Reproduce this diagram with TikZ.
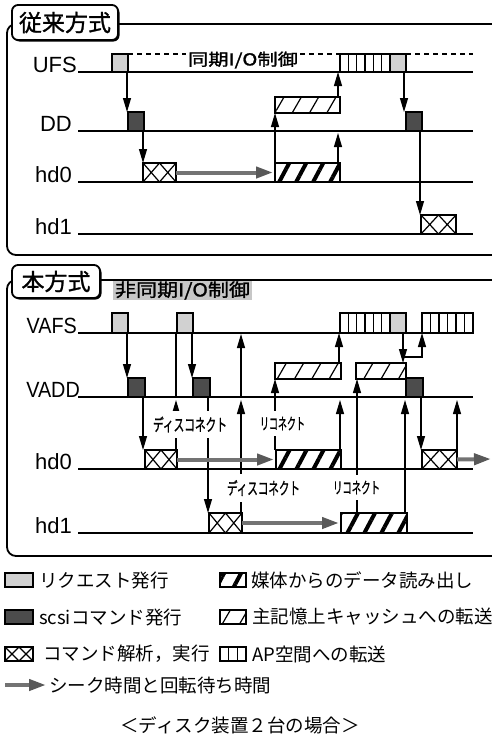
\documentclass[tikz,border=0pt]{standalone}
\usepackage{graphicx}
\usepackage{fontspec}
\setmainfont{Liberation Sans}
\newfontfamily\cjk{Noto Sans CJK JP}
\newfontfamily\cjkb[FakeBold=1.2]{Noto Sans CJK JP}
\usetikzlibrary{arrows.meta,patterns.meta,calc,shadows}
\newcommand\bx[6]{\node[#1, minimum width={(#5)-(#3)}, minimum height={(#6)-(#4)}] (#2) at (#3,#4) {};}
\begin{document}
\begin{tikzpicture}[x=1pt,y=-1pt,
 tl/.style={line width=1.2pt},
 box/.style={draw, line width=1.4pt, inner sep=0pt, outer sep=0pt, anchor=north west},
 req/.style={box, fill=black!18},
 cmd/.style={box, fill=black!70},
 exe/.style={box, fill=white, path picture={\draw[line width=1.2pt] (path picture bounding box.north west) -- (path picture bounding box.south) -- (path picture bounding box.north east) (path picture bounding box.south west) -- (path picture bounding box.north) -- (path picture bounding box.south east);}},
 read/.style={box, preaction={fill=white}, pattern={Lines[angle=62,distance=15pt,line width=4pt]}},
 xfer/.style={box, preaction={fill=white}, pattern={Lines[angle=60,distance=15pt,line width=1.2pt]}},
 ap/.style={box, fill=white, path picture={\pgfmathtruncatemacro\apn{#1-1}\foreach \k in {1,...,\apn}{\draw[line width=1.2pt] ($(path picture bounding box.north west)!{\k/#1}!(path picture bounding box.north east)$) -- ($(path picture bounding box.south west)!{\k/#1}!(path picture bounding box.south east)$);}}},
 arr/.style={line width=1.1pt,-{Triangle[length=14pt,width=8pt]}},
 ln/.style={line width=1.1pt},
 seek/.style={line width=4pt, draw=black!55, -{Triangle[length=17pt,width=11pt,color=black!65]}},
 dsh/.style={line width=1.1pt, dash pattern=on 5pt off 4pt},
 frame/.style={line width=1.8pt, rounded corners=9pt},
 title/.style={draw, line width=1.8pt, rounded corners=6pt, fill=white, inner sep=0pt, font=\cjkb\fontsize{23}{23}\selectfont, drop shadow={shadow xshift=1.5pt, shadow yshift=-1.5pt, fill=black, opacity=1}},
 tlab/.style={anchor=base east, inner sep=0pt, font=\fontsize{22}{22}\selectfont},
 lab/.style={fill=white, inner xsep=3pt, inner ysep=6pt, font=\cjkb\fontsize{17}{17}\selectfont},
 leg/.style={anchor=west, inner sep=0pt, font=\cjk\fontsize{18.5}{18.5}\selectfont}
]
\useasboundingbox (0,0) rectangle (492,739);
% frames
\draw[frame] (500,24) -- (7,24) -- (7,255) -- (500,255);
\draw[frame] (500,280) -- (7,280) -- (7,556) -- (500,556);

% ---------- top timelines ----------
\coordinate (ufsL) at (78,72);  \coordinate (ufsR) at (473,72);
\coordinate (ddL) at (78,131);  \coordinate (ddR) at (473,131);
\coordinate (ahzL) at (78,182); \coordinate (ahzR) at (473,182);
\coordinate (ahoL) at (78,234); \coordinate (ahoR) at (473,234);
\draw[tl] (ufsL) -- (ufsR);
\draw[tl] (ddL) -- (ddR);
\draw[tl] (ahzL) -- (ahzR);
\draw[tl] (ahoL) -- (ahoR);
\node[tlab] (lufs) at (77,72) {UFS};
\node[tlab] (ldd) at (72,131) {DD};
\node[tlab] (lahz) at (72,182) {hd0};
\node[tlab] (laho) at (72,234) {hd1};

% top boxes
\bx{req}{ur1}{112}{54}{128}{72}
\bx{cmd}{uc1}{128}{112}{144}{131}
\bx{exe}{ux1}{143}{163}{176}{182}
\bx{read}{ud1}{275}{163}{340}{182}
\bx{xfer}{ut1}{275}{97}{340}{113}
\bx{ap=6}{uap}{340}{54}{390}{72}
\bx{req}{ur2}{390}{54}{406}{72}
\bx{cmd}{uc2}{406}{112}{422}{131}
\bx{exe}{ux2}{421}{215}{456}{234}

\node[inner sep=2pt] (sync) at (243,60) {\resizebox{110pt}{\height}{\cjkb\fontsize{16.5}{16.5}\selectfont 同期I/O制御}};
\draw[dsh] (ur1.north east) -- (ur1.north east -| sync.west);
\draw[dsh] (uap.north west -| sync.east) -- (uap.north west);
\draw[dsh] (ur2.north east) -- (ur2.north east -| ufsR);

\draw[arr] ($(ur1.south east)+(-1,0)$) -- ($(uc1.north west)+(-1,0)$);
\draw[arr] ($(uc1.south east)+(-1,0)$) -- (ux1.north west);
\draw[seek] (ux1.east) -- ($(ud1.west)+(-2,0)$);
\draw[arr] (ud1.north west) -- (ut1.south west);
\draw[arr] ($(ud1.north east)+(-2,0)$) -- ($(ud1.north east |- ddL)+(-2,2)$);
\draw[arr] ($(ut1.north east)+(-2,0)$) -- ($(uap.south west)+(-2,0)$);
\draw[arr] ($(ur2.south east)+(-2,0)$) -- ($(uc2.north west)+(-2,0)$);
\draw[arr] ($(uc2.south east)+(-2,0)$) -- ($(ux2.north west)+(-1,0)$);

% ---------- bottom timelines ----------
\coordinate (vafsL) at (78,333); \coordinate (vafsR) at (473,333);
\coordinate (vaddL) at (78,397); \coordinate (vaddR) at (473,397);
\coordinate (bhzL) at (78,469);  \coordinate (bhzR) at (473,469);
\coordinate (bhoL) at (78,533);  \coordinate (bhoR) at (473,533);
\draw[tl] (vafsL) -- (vafsR);
\draw[tl] (vaddL) -- (vaddR);
\draw[tl] (bhzL) -- (bhzR);
\draw[tl] (bhoL) -- (bhoR);
\node[tlab] (lvafs) at (77,333) {\scalebox{0.9}[1]{VAFS}};
\node[tlab] (lvadd) at (80,397) {\scalebox{0.9}[1]{VADD}};
\node[tlab] (lbhz) at (72,469) {hd0};
\node[tlab] (lbho) at (72,533) {hd1};

\node[fill=black!22, minimum width=139pt, minimum height=19pt, inner sep=0pt] (async) at (182.5,290.5) {\resizebox{135pt}{\height}{\cjkb\fontsize{18}{18}\selectfont 非同期I/O制御}};

% bottom boxes
\bx{req}{r1}{112}{313}{128}{333}
\bx{req}{r2}{177}{313}{193}{333}
\bx{ap=6}{ap1}{340}{313}{390}{333}
\bx{req}{r3}{390}{313}{406}{333}
\bx{ap=6}{ap2}{422}{313}{473}{333}
\bx{cmd}{c1}{128}{378}{145}{397}
\bx{cmd}{c2}{193}{378}{210}{397}
\bx{cmd}{c3}{406}{378}{423}{397}
\bx{xfer}{t1}{275}{363}{341}{379}
\bx{xfer}{t2}{356}{363}{406}{379}
\bx{exe}{x1}{145}{450}{177}{469}
\bx{read}{d1}{276}{450}{341}{469}
\bx{exe}{x3}{422}{450}{457}{469}
\bx{exe}{x2}{209}{513}{242}{533}
\bx{read}{d2}{341}{513}{407}{533}

% connectors
\draw[arr] ($(r1.south east)+(-1,0)$) -- ($(c1.north west)+(-1,0)$);
\draw[arr] ($(r2.south east)+(-1,0)$) -- ($(c2.north west)+(-1,0)$);
\draw[arr] ($(c1.south east)+(-2,0)$) -- ($(x1.north west)+(-2,0)$);
\draw[arr] ($(x1.north east)+(-1,0)$) -- ($(x1.north east |- vaddL)+(-1,3)$);
\draw[ln] ($(x1.north east |- vaddL)+(-1,0)$) -- ($(x1.north east |- vafsL)+(-1,0)$);
\draw[arr] ($(c2.south east)+(-2,0)$) -- ($(x2.north west)+(-1,0)$);
\draw[arr] ($(x2.north east)+(-1,0)$) -- ($(x2.north east |- vaddL)+(-1,3)$);
\draw[arr] ($(x2.north east |- vaddL)+(-1,0)$) -- ($(x2.north east |- vafsL)+(-1,1)$);
\draw[seek] (x1.east) -- ($(d1.west)+(-2,0)$);
\draw[seek] (x2.east) -- ($(d2.west)+(-2,0)$);
\draw[arr] ($(d1.north west)+(-1,0)$) -- (t1.south west);
\draw[arr] ($(d1.north east)+(-1,0)$) -- ($(d1.north east |- vaddL)+(-1,3)$);
\draw[arr] ($(t1.north east)+(-2,0)$) -- ($(ap1.south west)+(-1,0)$);
\draw[arr] ($(d2.north west)+(16,0)$) -- ($(t2.south west)+(1,0)$);
\draw[arr] ($(d2.north east)+(-2,0)$) -- ($(d2.north east |- vaddL)+(-2,3)$);
\draw[arr] ($(r3.south east)+(-3,0)$) -- ($(t2.north east)+(-3,0)$);
\draw[arr] ($(r3.south east)+(-3,24)$) -- ($(ap2.south west)+(0,24)$) -- (ap2.south west);
\draw[arr] ($(c3.south east)+(-2,0)$) -- ($(x3.north west)+(-1,0)$);
\draw[arr] (x3.north east) -- ($(x3.north east |- vaddL)+(0,3)$);
\coordinate (seekend) at (491,459);
\draw[seek] (x3.east) -- (seekend);

% disconnect / reconnect labels
\node[lab] (dla) at (190,424.5) {\resizebox{74pt}{\height}{ディスコネクト}};
\node[lab] (rla) at (282.5,423.5) {\resizebox{45pt}{\height}{\fontsize{16}{16}\selectfont リコネクト}};
\node[lab] (dlb) at (263.5,488) {\resizebox{73pt}{\height}{ディスコネクト}};
\node[lab] (rlb) at (356.5,487.5) {\resizebox{47pt}{\height}{\fontsize{16}{16}\selectfont リコネクト}};

% titles
\node[title, minimum width=106pt, minimum height=35pt] (ttop) at (65,22.5) {従来方式};
\node[title, minimum width=88pt, minimum height=33pt] (tbot) at (56,281.5) {本方式};

% ---------- legend ----------
\bx{req}{lga}{5}{573}{33}{587}
\bx{cmd}{lgb}{5}{610}{33}{624}
\bx{exe}{lgc}{5}{647}{33}{661}
\coordinate (ska) at (5,685); \coordinate (skb) at (46,685);
\draw[seek] (ska) -- (skb);
\bx{read}{lgd}{220}{573}{246}{587}
\bx{xfer}{lge}{220}{610}{246}{624}
\bx{ap=3}{lgf}{220}{647}{246}{661}
\node[leg] (lta) at (39,580) {リクエスト発行};
\node[leg] (ltb) at (39,617) {scsiコマンド発行};
\node[leg] (ltc) at (43,654) {コマンド解析，実行};
\node[leg] (ltd) at (49,685) {シーク時間と回転待ち時間};
\node[leg] (lte) at (251,580) {媒体からのデータ読み出し};
\node[leg] (ltf) at (252,617) {主記憶上キャッシュへの転送};
\node[leg] (ltg) at (252,654) {AP空間への転送};
\node[font=\cjk\fontsize{18.5}{18.5}\selectfont, inner sep=0pt] (foot) at (240,725) {＜ディスク装置２台の場合＞};
\end{tikzpicture}
\end{document}
